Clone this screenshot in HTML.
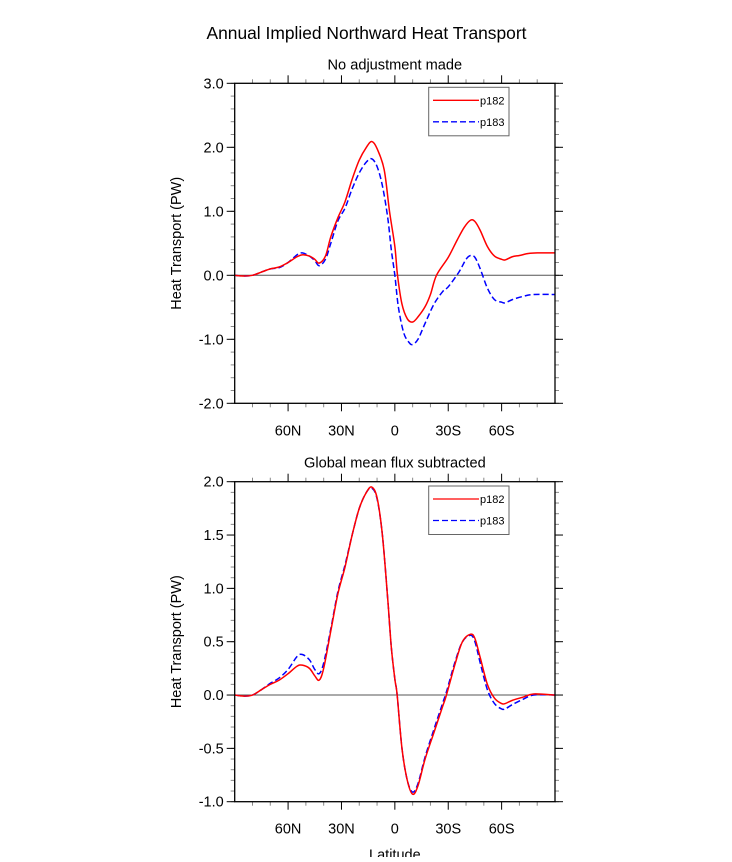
<!DOCTYPE html>
<html><head><meta charset="utf-8"><style>
body{margin:0;background:#fff;}
svg text{font-family:"Liberation Sans",Arial,sans-serif;fill:#000;}
</style></head><body>
<svg id="chart" width="732" height="857" viewBox="0 0 732 857" xmlns="http://www.w3.org/2000/svg">
<text x="366.5" y="39" font-size="17.4" text-anchor="middle">Annual Implied Northward Heat Transport</text>
</svg>
<script>
const latTop182=[90,85,80,75,70,65,60,55,52,48,45,42.5,39,36,32,28,24,20,16,13,10,6,3,0,-1.5,-4,-7,-10,-13,-17,-20,-23.4,-30,-35,-39,-42.5,-45,-48,-52,-56,-60,-62,-66,-70,-75,-80,-90];
const valTop182=[0,-0.01,0,0.05,0.1,0.13,0.2,0.29,0.32,0.3,0.25,0.19,0.3,0.6,0.9,1.15,1.5,1.8,2.0,2.09,1.98,1.65,1.0,0.45,0,-0.45,-0.68,-0.73,-0.65,-0.49,-0.3,0,0.28,0.55,0.75,0.86,0.84,0.7,0.45,0.3,0.25,0.24,0.29,0.31,0.34,0.35,0.35];
const latTop183=[90,85,80,75,70,65,60,55,52,48,45,42.5,39,36,32,28,24,20,16,13,10,7,4,2,0,-2,-5,-8,-10,-13,-17,-22,-27,-30,-36,-40,-42.5,-45,-48,-52,-56,-60,-62,-66,-72,-78,-90];
const valTop183=[0,-0.01,0,0.05,0.1,0.12,0.2,0.32,0.35,0.3,0.23,0.15,0.25,0.5,0.85,1.05,1.35,1.6,1.77,1.82,1.7,1.4,0.9,0.4,0,-0.5,-0.9,-1.05,-1.08,-1.0,-0.75,-0.45,-0.25,-0.18,0.05,0.25,0.31,0.28,0.1,-0.2,-0.38,-0.42,-0.43,-0.38,-0.33,-0.3,-0.3];
const latBot182=[90,85,80,75,70,65,60,55,52,48,45,42.5,40,36,32,28,24,20,16,13,10,7,4,2,0,-1.3,-4,-7,-10,-13,-17,-22,-27,-29,-34,-38,-42.5,-45,-48,-52,-56,-60,-62,-66,-72,-78,-90];
const valBot182=[0,-0.01,0,0.05,0.1,0.14,0.2,0.27,0.28,0.25,0.18,0.14,0.25,0.6,0.95,1.2,1.5,1.75,1.9,1.95,1.85,1.5,0.9,0.45,0.15,0,-0.5,-0.8,-0.93,-0.85,-0.6,-0.35,-0.1,0,0.3,0.5,0.57,0.53,0.35,0.1,-0.03,-0.08,-0.08,-0.05,-0.02,0.01,0];
const latBot183=latBot182;
const valBot183=[0,-0.01,0,0.05,0.11,0.16,0.24,0.36,0.38,0.33,0.24,0.2,0.3,0.62,0.97,1.22,1.5,1.75,1.9,1.94,1.84,1.5,0.9,0.45,0.15,0,-0.5,-0.8,-0.91,-0.83,-0.58,-0.32,-0.07,0.03,0.32,0.5,0.56,0.5,0.3,0.05,-0.08,-0.13,-0.13,-0.09,-0.04,0,0];
const xTickVals=[60,30,0,-30,-60];
const xTickLabels=["60N","30N","0","30S","60S"];
const yTopTicks=[3,2,1,0,-1,-2];
const yTopLabels=["3.0","2.0","1.0","0.0","-1.0","-2.0"];
const yBotTicks=[2,1.5,1,0.5,0,-0.5,-1];
const yBotLabels=["2.0","1.5","1.0","0.5","0.0","-0.5","-1.0"];
const seriesNames=["p182","p183"];

const NS="http://www.w3.org/2000/svg";
const svg=document.getElementById('chart');
function mk(tag,attrs,parent){const e=document.createElementNS(NS,tag);for(const k in attrs)e.setAttribute(k,attrs[k]);(parent||svg).appendChild(e);return e;}
function smooth(pts){let d='M'+pts[0][0].toFixed(2)+','+pts[0][1].toFixed(2);
 for(let i=0;i<pts.length-1;i++){const p0=pts[Math.max(0,i-1)],p1=pts[i],p2=pts[i+1],p3=pts[Math.min(pts.length-1,i+2)];
 const c1=[p1[0]+(p2[0]-p0[0])/6,p1[1]+(p2[1]-p0[1])/6],c2=[p2[0]-(p3[0]-p1[0])/6,p2[1]-(p3[1]-p1[1])/6];
 d+=' C'+c1[0].toFixed(2)+','+c1[1].toFixed(2)+' '+c2[0].toFixed(2)+','+c2[1].toFixed(2)+' '+p2[0].toFixed(2)+','+p2[1].toFixed(2);}
 return d;}

function panel(name,top,bottom,ymax,ymin,yTicks,yLabels,minorStep,subtitle,lats,vals,legTop,showX){
 const L=234.7,R=555,T=top,B=bottom;
 const g=mk('g',{});
 
 
 const xs=v=>L+(90-v)/180*(R-L);
 const ys=v=>T+(ymax-v)/(ymax-ymin)*(B-T);
 const st=mk('text',{x:(L+R)/2,y:T-14,'font-size':'14.6','text-anchor':'middle'},g);
 
 
 st.textContent=subtitle;
 for(let v=ymin;v<=ymax+1e-9;v+=minorStep){const y=ys(v);
  const t1=mk('line',{x1:L-4,x2:L,y1:y,y2:y,stroke:'#888','stroke-width':1},g);
  
  
  const t2=mk('line',{x1:R,x2:R+4,y1:y,y2:y,stroke:'#888','stroke-width':1},g);
  
  }
 yTicks.forEach((v,i)=>{const y=ys(v);
  const t1=mk('line',{x1:L-8,x2:L,y1:y,y2:y,stroke:'#000','stroke-width':1},g);
  
  
  const t2=mk('line',{x1:R,x2:R+8,y1:y,y2:y,stroke:'#000','stroke-width':1},g);
  
  
  const tx=mk('text',{x:L-11,y:y+5,'font-size':'14.5','text-anchor':'end'},g);
  
  
  tx.textContent=yLabels[i];});
 for(let v=-80;v<=80;v+=10){const x=xs(v);const major=(v%30===0);const len=major?8:4;const col=major?'#000':'#888';
  const a=mk('line',{x1:x,x2:x,y1:T-len,y2:T,stroke:col,'stroke-width':1},g);
  
  
  const b=mk('line',{x1:x,x2:x,y1:B,y2:B+len,stroke:col,'stroke-width':1},g);
  
  }
 xTickVals.forEach((v,i)=>{const tx=mk('text',{x:xs(v),y:B+32,'font-size':'14.5','text-anchor':'middle'},g);
  
  
  tx.textContent=xTickLabels[i];});
 const z=mk('line',{x1:L,x2:R,y1:ys(0),y2:ys(0),stroke:'#555','stroke-width':1},g);
 
 
 const styles=[{stroke:'#f00',dash:''},{stroke:'#00f',dash:'6,3'}];
 [1,0].forEach(si=>{const pts=lats[si].map((la,i)=>[xs(la),ys(vals[si][i])]);
  const p=mk('path',{d:smooth(pts),fill:'none',stroke:styles[si].stroke,'stroke-width':1.5,'stroke-dasharray':styles[si].dash},g);
  
  });
 const fr=mk('rect',{x:L,y:T,width:R-L,height:B-T,fill:'none',stroke:'#000','stroke-width':1.3},g);
 
 
 const yt=mk('text',{x:0,y:0,'font-size':'14.5','text-anchor':'middle',transform:'translate(181,'+((T+B)/2)+') rotate(-90)'},g);
 
 
 yt.textContent='Heat Transport (PW)';
 const lg=mk('g',{},g);
 
 
 const lr=mk('rect',{x:428.7,y:legTop,width:80.3,height:48.5,fill:'#fff',stroke:'#666','stroke-width':1},lg);
 
 
 seriesNames.forEach((n,i)=>{const y=legTop+13+i*21.5;
  const ln=mk('line',{x1:433,x2:479,y1:y,y2:y,stroke:styles[i].stroke,'stroke-width':1.3,'stroke-dasharray':styles[i].dash},lg);
  
  
  const t=mk('text',{x:480,y:y+4,'font-size':'11'},lg);
  
  
  t.textContent=n;});
 if(showX){const xt=mk('text',{x:(L+R)/2,y:B+58,'font-size':'14.5','text-anchor':'middle'},g);
  
  
  xt.textContent='Latitude';}
}
panel('top-panel',83.3,403.3,3,-2,yTopTicks,yTopLabels,0.2,'No adjustment made',[latTop182,latTop183],[valTop182,valTop183],87.3,false);
panel('bottom-panel',481.7,801.7,2,-1,yBotTicks,yBotLabels,0.1,'Global mean flux subtracted',[latBot182,latBot183],[valBot182,valBot183],486,true);
</script>
</body></html>
